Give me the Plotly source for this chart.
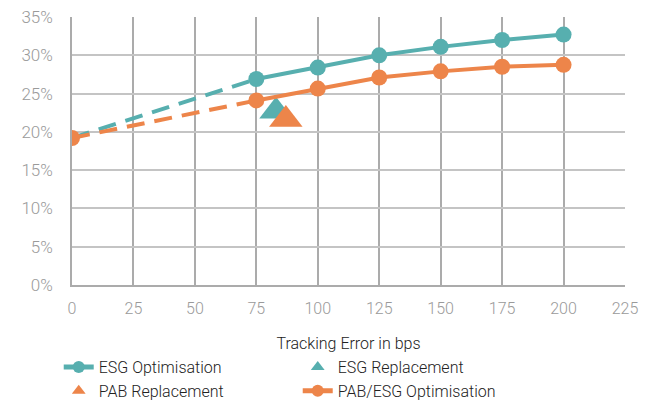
import plotly.graph_objects as go

te_bps = [0, 75, 100, 125, 150, 175, 200]
esg_opt = [0.192, 0.269, 0.284, 0.300, 0.311, 0.320, 0.327]
pab_opt = [0.192, 0.241, 0.2565, 0.271, 0.279, 0.285, 0.2875]
esg_repl_te = [83]
esg_repl = [0.227]
pab_repl_te = [87]
pab_repl = [0.216]

TEAL = "#57AFAF"
ORANGE = "#ED854A"

fig = go.Figure()
# dashed extrapolation segments
fig.add_trace(go.Scatter(x=te_bps[:2], y=esg_opt[:2], mode="lines", showlegend=False,
                         line=dict(color=TEAL, width=4, dash="18px,10px"), hoverinfo="skip"))
fig.add_trace(go.Scatter(x=te_bps[:2], y=pab_opt[:2], mode="lines", showlegend=False,
                         line=dict(color=ORANGE, width=4, dash="18px,10px"), hoverinfo="skip"))
# legend order traces
fig.add_trace(go.Scatter(x=te_bps[1:], y=esg_opt[1:], mode="lines+markers", name="ESG Optimisation",
                         line=dict(color=TEAL, width=4), marker=dict(color=TEAL, size=16)))
fig.add_trace(go.Scatter(x=esg_repl_te, y=esg_repl, mode="markers", name="ESG Replacement",
                         marker=dict(color=TEAL, size=29, symbol="triangle-up")))
fig.add_trace(go.Scatter(x=pab_repl_te, y=pab_repl, mode="markers", name="PAB Replacement",
                         marker=dict(color=ORANGE, size=29, symbol="triangle-up")))
fig.add_trace(go.Scatter(x=te_bps[1:], y=pab_opt[1:], mode="lines+markers", name="PAB/ESG Optimisation",
                         line=dict(color=ORANGE, width=4), marker=dict(color=ORANGE, size=16)))
fig.add_trace(go.Scatter(x=te_bps[:1], y=pab_opt[:1], mode="markers", showlegend=False,
                         marker=dict(color=ORANGE, size=16), hoverinfo="skip"))

fig.update_layout(
    width=651, height=405,
    margin=dict(l=72, r=26, t=17, b=120, autoexpand=False),
    paper_bgcolor="white", plot_bgcolor="white",
    font=dict(family="Roboto", size=15, color="#333333"),
    legend=dict(orientation="h", x=-0.024, y=-0.243, xanchor="left", yanchor="top",
                entrywidth=194, entrywidthmode="pixels", itemsizing="constant",
                font=dict(size=16, color="#222222", weight=300), tracegroupgap=0),
)
fig.update_xaxes(range=[0, 225], tickvals=list(range(0, 226, 25)), showgrid=True,
                 gridcolor="#ababab", gridwidth=1.5, zeroline=False, showline=True,
                 linecolor="#ababab", linewidth=1.5, mirror=False,
                 tickfont=dict(color="#9a9a9a", size=16, weight=300), ticklabelstandoff=8,
                 title=dict(text="Tracking Error in bps", font=dict(size=16, color="#222222", weight=300), standoff=21))
fig.update_yaxes(range=[0, 0.35], tickvals=[i * 0.05 for i in range(8)], tickformat=".0%",
                 showgrid=True, gridcolor="#c4c4c4", gridwidth=1.5, zeroline=False,
                 showline=True, linecolor="#ababab", linewidth=1.5,
                 tickfont=dict(color="#9a9a9a", size=17, weight=300), ticklabelstandoff=14)

fig.write_html("out.html")
